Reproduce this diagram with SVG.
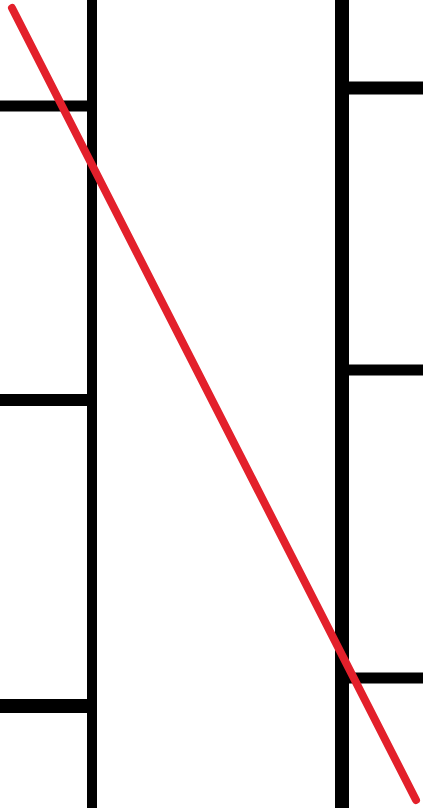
<svg xmlns="http://www.w3.org/2000/svg" width="423" height="808" viewBox="0 0 423 808">
<style>
.k{stroke:#000;fill:none}
.r{stroke:#e3202b;stroke-width:8;stroke-linecap:round;fill:none}
</style>
<rect width="423" height="808" fill="#fff"/>
<g id="left-wall">
<line class="k" x1="92" y1="0" x2="92" y2="808" stroke-width="10"/>
<line class="k" x1="0" y1="106" x2="92" y2="106" stroke-width="11"/>
<line class="k" x1="0" y1="400" x2="92" y2="400" stroke-width="12"/>
<line class="k" x1="0" y1="706" x2="92" y2="706" stroke-width="14"/>
</g>
<g id="right-wall">
<line class="k" x1="342" y1="0" x2="342" y2="808" stroke-width="14"/>
<line class="k" x1="342" y1="88" x2="423" y2="88" stroke-width="13"/>
<line class="k" x1="342" y1="370" x2="423" y2="370" stroke-width="11"/>
<line class="k" x1="342" y1="678" x2="423" y2="678" stroke-width="11"/>
</g>
<g id="connectors">
<line class="r" x1="12" y1="8" x2="416" y2="800"/>
</g>
</svg>
